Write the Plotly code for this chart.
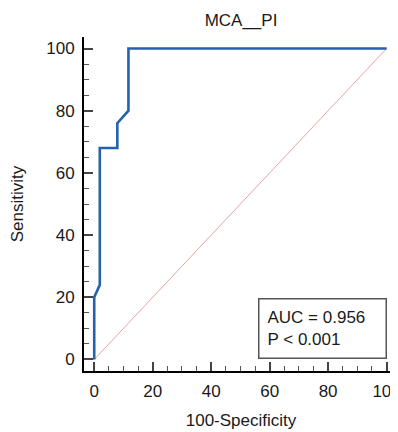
import plotly.graph_objects as go

# ROC curve points (100-Specificity, Sensitivity)
fpr = [0, 0, 1.9, 1.9, 7.9, 7.9, 11.7, 11.7, 100]
tpr = [0, 20, 24, 68, 68, 76, 80, 100, 100]
ref_x = [0, 100]
ref_y = [0, 100]
tick_vals = [0, 20, 40, 60, 80, 100]
title_text = "MCA__PI"
auc_text = "AUC = 0.956"
p_text = "P &lt; 0.001"

FONT = "Liberation Sans, Arial, sans-serif"

# page body has an 8px default margin; size the figure to fit the window
W, H = 390, 424
OFF = 8

fig = go.Figure()
fig.add_trace(go.Scatter(x=ref_x, y=ref_y, mode="lines",
                         line=dict(color="#e3a5a5", width=1), hoverinfo="skip"))
fig.add_trace(go.Scatter(x=fpr, y=tpr, mode="lines",
                         line=dict(color="#2462b0", width=2.6)))

axis_common = dict(
    showgrid=False, zeroline=False, showline=True, linecolor="black", linewidth=2,
    ticks="inside", ticklen=9, tickwidth=1.5, tickcolor="#444",
    tickvals=tick_vals, tickfont=dict(size=17, color="#1a1a1a", family=FONT),
    minor=dict(ticks="inside", ticklen=5, tickwidth=1.2, tickcolor="#555", dtick=5, tick0=0, showgrid=False),
    automargin=False, ticklabeloverflow="allow",
)

fig.update_layout(
    width=W, height=H,
    margin=dict(l=84 - OFF, r=0, t=37 - OFF, b=H - (371 - OFF), autoexpand=False),
    paper_bgcolor="white", plot_bgcolor="white",
    showlegend=False,
    font=dict(family=FONT, size=17, color="#1a1a1a"),
    title=dict(text=title_text, x=0.5, xanchor="center", y=1 - (20 - OFF) / H, yanchor="middle",
               xref="paper", yref="container", automargin=False,
               font=dict(size=17, color="#1a1a1a")),
    xaxis=dict(range=[-3.5, 103.9],
               title=dict(text="100-Specificity", standoff=14, font=dict(size=17)),
               ticklabelstandoff=4, **axis_common),
    yaxis=dict(range=[-3.7, 103.7],
               title=dict(text="Sensitivity", standoff=18, font=dict(size=17)),
               ticklabelstandoff=4, **axis_common),
    annotations=[dict(
        text=auc_text + "<br>" + p_text, x=100, y=0, xref="x", yref="y",
        xanchor="right", yanchor="bottom", showarrow=False, align="left",
        bordercolor="#555", borderwidth=1.5, borderpad=8, bgcolor="white",
        width=110, height=42, font=dict(size=17, color="#1a1a1a", family=FONT),
    )],
)

fig.write_html("out.html")
